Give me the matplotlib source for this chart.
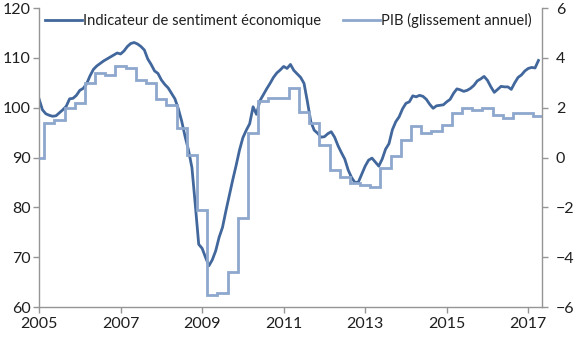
import matplotlib
matplotlib.use("Agg")
import matplotlib.pyplot as plt
import numpy as np

plt.rcParams.update({
    "font.family": ["Lato", "DejaVu Sans"],
    "font.size": 11.5,
    "axes.linewidth": 1.0,
    "xtick.direction": "out",
    "ytick.direction": "out",
})

# Monthly economic sentiment indicator, Jan 2005 -> Apr 2017
START_YEAR = 2005
sentiment = [
    101.8, 99.6, 98.8, 98.5, 98.3, 98.4, 99.0, 99.6, 100.3, 101.8, 101.9, 102.5,
    103.5, 103.9, 104.8, 106.4, 107.7, 108.4, 108.9, 109.4, 109.8, 110.2, 110.6, 111.0,
    110.8, 111.4, 112.3, 112.9, 113.1, 112.8, 112.3, 111.6, 109.8, 108.7, 107.4, 106.9,
    105.6, 104.7, 104.0, 102.9, 101.8, 99.8, 97.3, 94.2, 91.5, 88.0, 80.5, 72.6,
    71.8, 70.0, 68.3, 69.5, 71.3, 74.0, 76.0, 79.3, 82.4, 85.5, 88.4, 91.5,
    94.0, 95.5, 96.8, 100.2, 98.7, 101.4, 102.6, 103.8, 104.9, 106.1, 107.0, 107.6,
    108.3, 107.9, 108.7, 107.5, 106.8, 106.1, 104.9, 101.2, 97.2, 95.5, 94.9, 94.1,
    94.2, 94.8, 95.2, 94.1, 92.4, 91.0, 89.7, 87.5, 86.0, 85.0, 85.1, 86.7,
    88.3, 89.5, 89.9, 89.1, 88.3, 89.7, 91.7, 92.8, 95.6, 97.2, 98.2, 99.8,
    100.9, 101.2, 102.4, 102.2, 102.5, 102.3, 101.7, 100.7, 99.9, 100.4, 100.5, 100.6,
    101.2, 101.7, 102.9, 103.8, 103.6, 103.3, 103.5, 103.9, 104.5, 105.4, 105.8, 106.3,
    105.5, 104.2, 103.1, 103.7, 104.3, 104.2, 104.2, 103.7, 105.0, 106.1, 106.6, 107.4,
    107.9, 108.1, 108.0, 109.5,
]

# Quarterly GDP, year-on-year growth (%), Q1 2005 -> Q2 2017
gdp_yoy = [
    0.0, 1.38, 1.5, 2.0,
    2.2, 3.0, 3.38, 3.32,
    3.68, 3.6, 3.12, 2.98,
    2.35, 2.1, 1.18, 0.1,
    -2.1, -5.52, -5.43, -4.6,
    -2.44, 0.98, 2.27, 2.38,
    2.38, 2.78, 1.84, 1.38,
    0.5, -0.5, -0.77, -1.03,
    -1.1, -1.17, -0.4, 0.08,
    0.7, 1.28, 0.98, 1.08,
    1.3, 1.78, 1.98, 1.9,
    2.0, 1.7, 1.6, 1.8,
    1.8, 1.68,
]

year_ticks = [2005, 2007, 2009, 2011, 2013, 2015, 2017]
left_ticks = [60, 70, 80, 90, 100, 110, 120]
right_ticks = [-6, -4, -2, 0, 2, 4, 6]

DARK = "#41679c"
LIGHT = "#8ea7cd"
AXIS_GREY = "#959595"
TEXT = "#1f1f1f"

months = START_YEAR + np.arange(len(sentiment)) / 12.0
x_end = START_YEAR + len(sentiment) / 12.0
q_start = START_YEAR + np.arange(len(gdp_yoy)) * 0.25
# quarterly steps switch halfway between quarter starts
q_edges = np.concatenate([[START_YEAR], q_start[1:] - 0.125, [x_end]])

fig = plt.figure(figsize=(5.74, 3.39), dpi=100)
ax = fig.add_axes([0.068, 0.094, 0.876, 0.882])
ax2 = ax.twinx()

line_s, = ax.plot(months, sentiment, color=DARK, linewidth=2.0,
                  solid_joinstyle="round",
                  label="Indicateur de sentiment économique")
step_g = ax2.stairs(gdp_yoy, q_edges, baseline=None, color=LIGHT,
                    linewidth=2.0, label="PIB (glissement annuel)")

ax.set_xlim(START_YEAR, x_end)
ax.set_ylim(60, 120)
ax2.set_ylim(-6, 6)
ax.set_xticks(year_ticks)
ax.set_xticklabels([str(y) for y in year_ticks])
ax.set_yticks(left_ticks)
ax2.set_yticks(right_ticks)

for a in (ax, ax2):
    a.spines["top"].set_visible(False)
    for side in ("left", "right", "bottom"):
        a.spines[side].set_color(AXIS_GREY)
    a.tick_params(colors=AXIS_GREY, labelcolor=TEXT, length=4, width=1.0,
                  labelsize=11.5)
ax.spines["right"].set_visible(False)
ax2.spines["left"].set_visible(False)
ax2.spines["bottom"].set_visible(False)
ax.tick_params(axis="y", pad=2)
ax.tick_params(axis="x", pad=3)
ax2.tick_params(axis="y", pad=6)

ax.legend([line_s, step_g],
          ["Indicateur de sentiment économique", "PIB (glissement annuel)"],
          loc="upper left", bbox_to_anchor=(0.012, 0.985), ncol=2,
          frameon=False, fontsize=10.6, handlelength=2.5,
          handletextpad=0.1, columnspacing=1.45, borderaxespad=0,
          borderpad=0, labelcolor=TEXT)

fig.savefig("out.png", dpi=100)
